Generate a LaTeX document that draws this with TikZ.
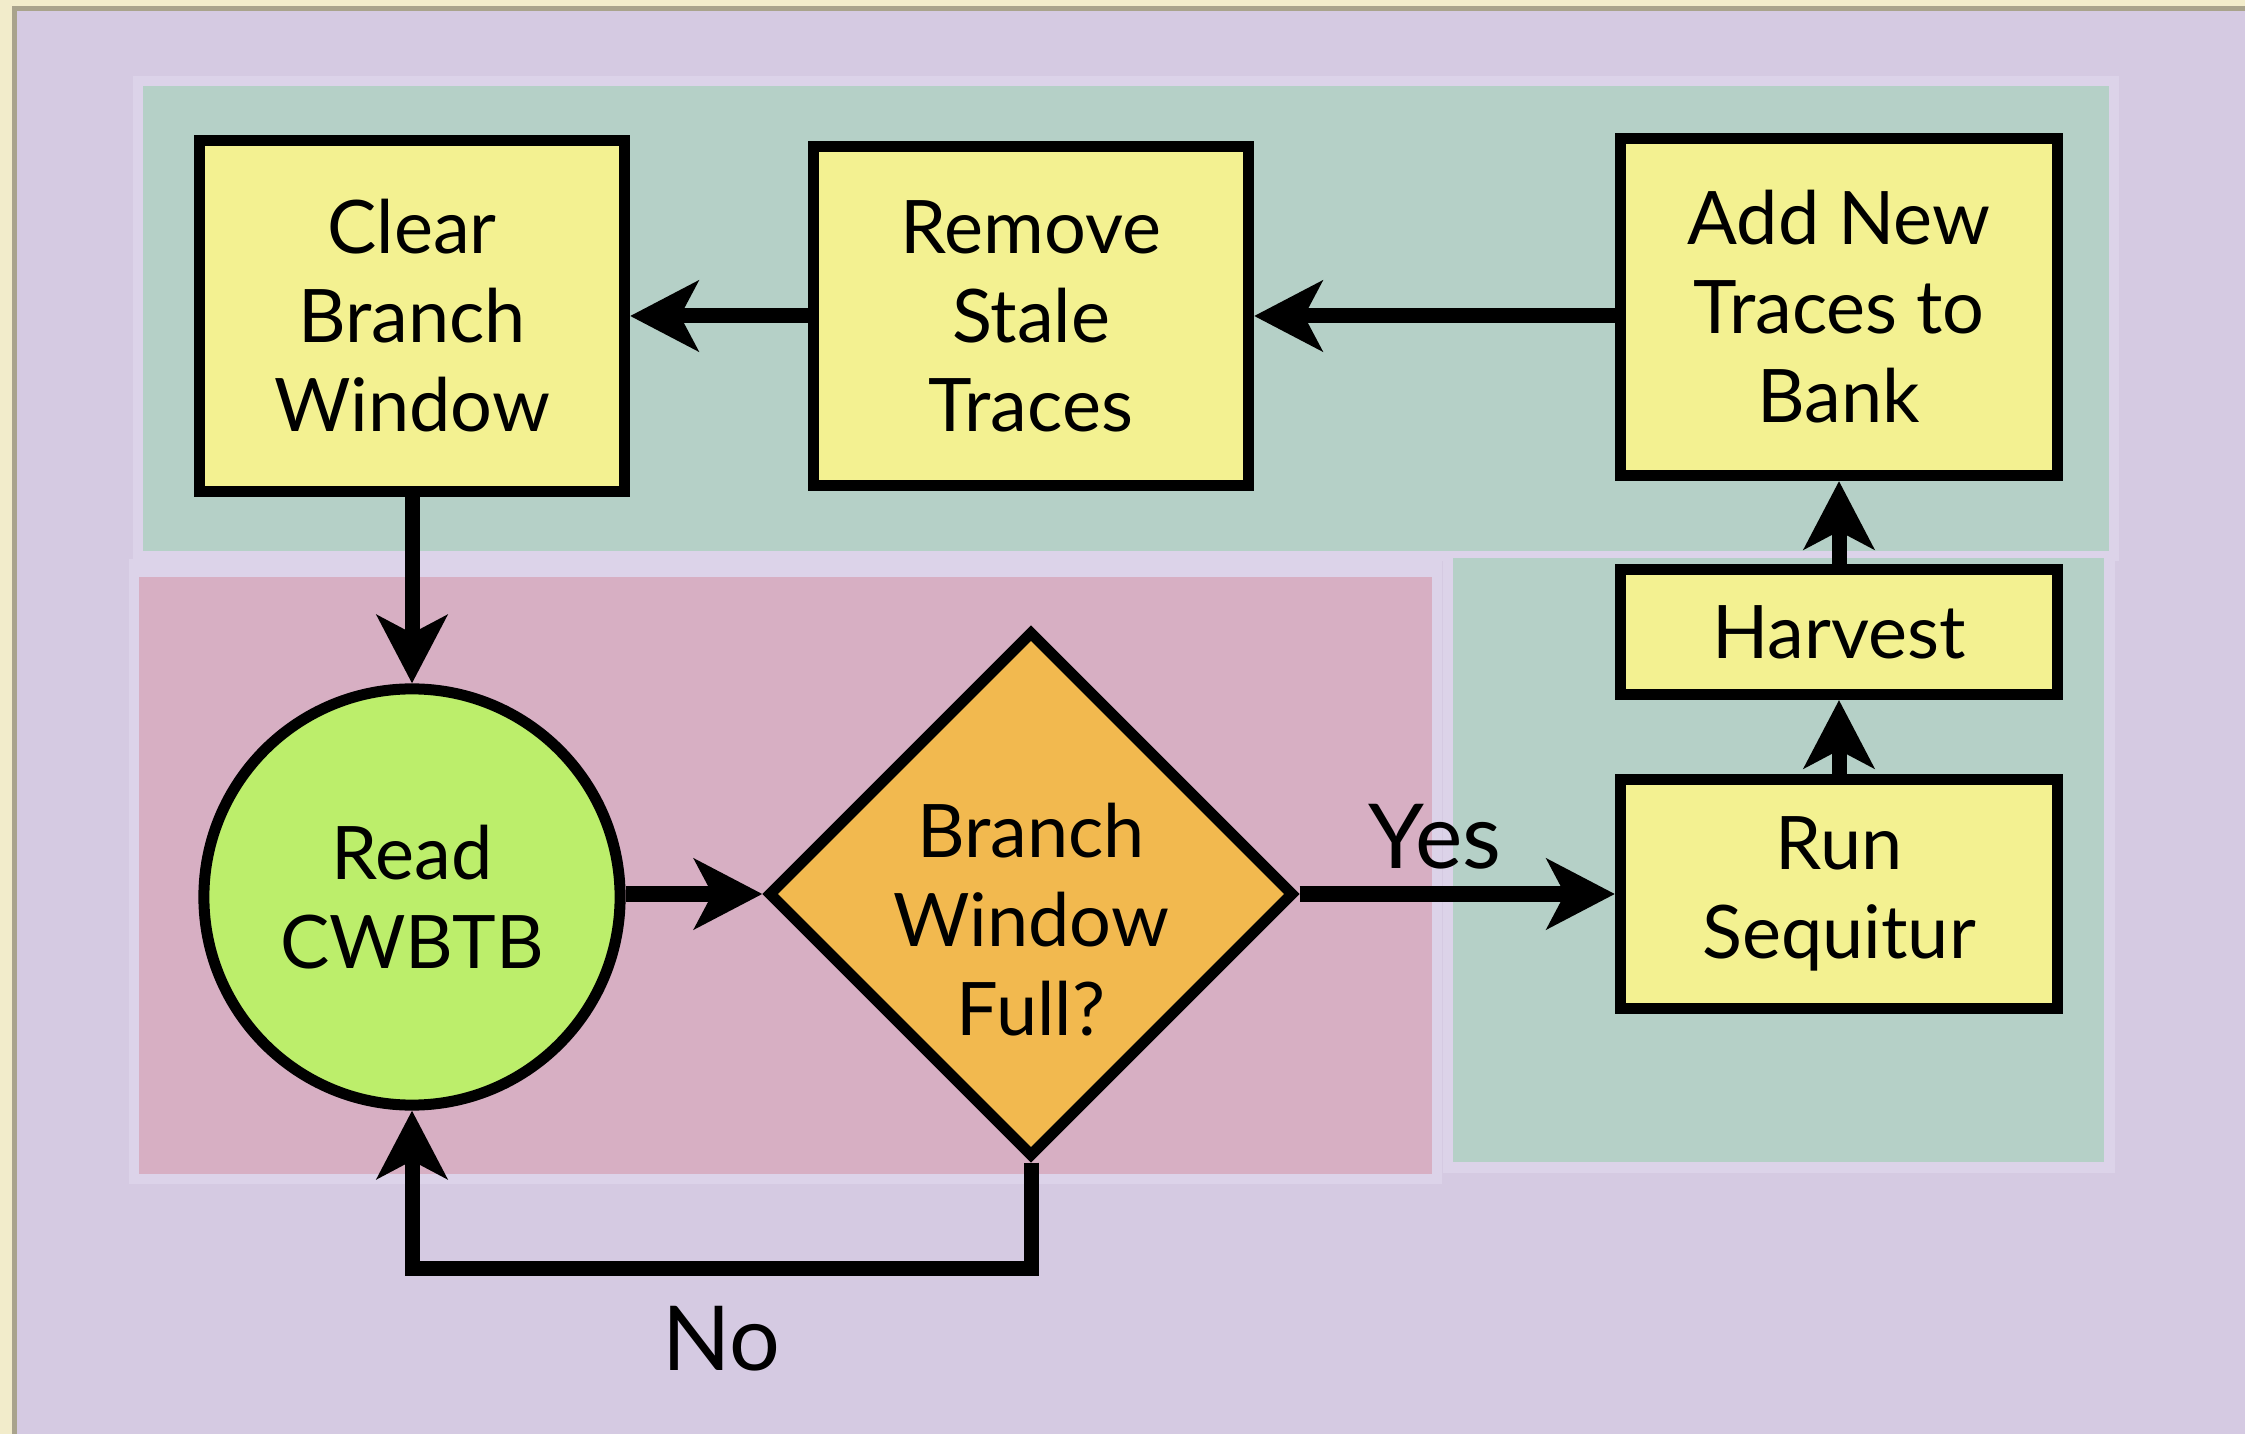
\documentclass[tikz,border=0pt]{standalone}
\usepackage{fontspec}
\setmainfont{Lato}
\usetikzlibrary{arrows.meta,shapes.geometric}
\definecolor{cream}{HTML}{F2ECCB}
\definecolor{rim}{HTML}{A9A38C}
\definecolor{lilac}{HTML}{D5CAE2}
\definecolor{lilacrim}{HTML}{DCD3E9}
\definecolor{sage}{HTML}{B5D0C7}
\definecolor{rose}{HTML}{D7AFC3}
\definecolor{boxyellow}{HTML}{F3F191}
\definecolor{lime}{HTML}{BCEE6B}
\definecolor{amber}{HTML}{F2B94F}
\begin{document}
\begin{tikzpicture}[x=0.01cm,y=-0.01cm,
  every node/.style={font=\fontsize{21}{25.3}\selectfont, text=black},
  stepbox/.style={draw=black, line width=0.11cm, fill=boxyellow, align=center, inner sep=0pt},
  conn/.style={line width=0.15cm, -{Stealth[length=0.68cm,width=0.70cm,inset=0.18cm]}},
  lbl/.style={font=\fontsize{25.5}{30}\selectfont, anchor=base},
  ]
\useasboundingbox (0,0) rectangle (2245,1434);
% slide backdrop
\fill[cream] (0,0) rectangle (2245,1434);
\fill[rim] (12,6) rectangle (2245,1434);
\fill[lilac] (17,11) rectangle (2245,1434);
% coloured panels with pale rims
\fill[lilacrim] (133,76) rectangle (2119,561);
\fill[lilacrim] (1443,548) rectangle (2115,1173);
\fill[lilacrim] (129,559) rectangle (1442,1184);
\fill[sage] (143,86) rectangle (2109,551);
\fill[sage] (1453,558) rectangle (2104,1162);
\fill[rose] (139,577) rectangle (1432,1174);

% process steps
\node[stepbox, minimum width=4.25cm, minimum height=3.50cm] (clear) at (412,316) {Clear\\Branch\\Window};
\node[stepbox, minimum width=4.35cm, minimum height=3.39cm] (stale) at (1031,316) {Remove\\Stale\\Traces};
\node[stepbox, minimum width=4.37cm, minimum height=3.37cm] (bank) at (1839,307) {Add New\\Traces to\\Bank};
\node[stepbox, minimum width=4.37cm, minimum height=1.25cm] (harvest) at (1839,632) {Harvest};
\node[stepbox, minimum width=4.37cm, minimum height=2.29cm] (sequitur) at (1839,894) {Run\\Sequitur};
\node[circle, draw=black, line width=0.11cm, fill=lime, minimum size=4.16cm, align=center, inner sep=0pt] (read) at (412,897) {Read\\CWBTB};
\node[diamond, draw=black, line width=0.11cm, fill=amber, minimum width=5.26cm, minimum height=5.26cm, inner sep=0pt] (full) at (1031,894)
  {\raisebox{-15pt}[0pt][0pt]{\begin{tabular}{@{}c@{}}Branch\\Window\\Full?\end{tabular}}};

% flow
\draw[conn] (bank.west |- stale.east) -- (stale.east);
\draw[conn] (stale.west) -- (clear.east);
\draw[conn] (clear.south) -- (read.north);
\draw[conn] (read.east |- full.west) -- (full.west);
\draw[conn] (full.east) -- (sequitur.west);
\draw[conn] (sequitur.north) -- (harvest.south);
\draw[conn] (harvest.north) -- (bank.south);
\coordinate (loop) at (1031,1268);
\draw[conn] (full.south) -- (full.south |- loop) -| (read.south);

\node[lbl] (yes) at (1435,869) {Yes};
\node[lbl] (no) at (721,1370) {No};
\end{tikzpicture}
\end{document}
